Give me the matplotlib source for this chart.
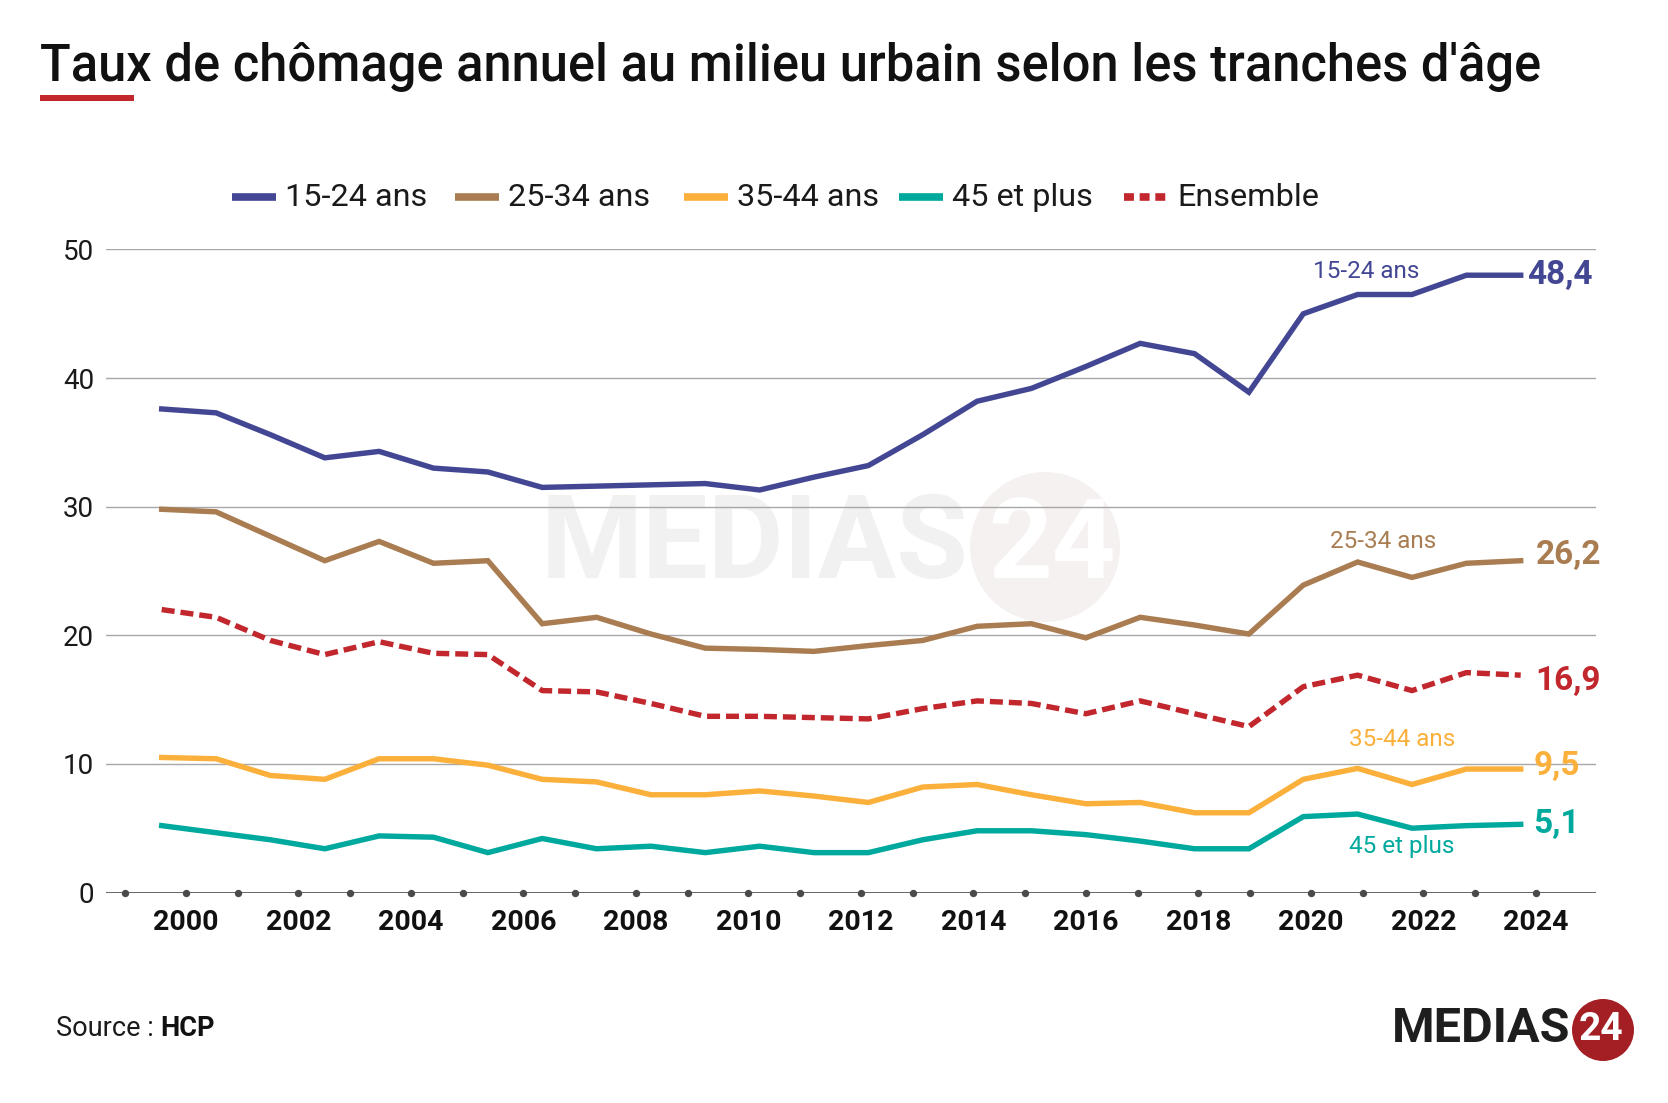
import matplotlib
matplotlib.use('Agg')
import matplotlib.pyplot as plt
from matplotlib.patches import Ellipse, Rectangle
import numpy as np

W, H = 1668, 1103

# ---------------- data ----------------
years = list(range(1999, 2025))
s15_24 = [37.6, 37.3, 35.6, 33.8, 34.3, 33.0, 32.7, 31.5, 31.6, 31.7, 31.8, 31.3, 32.3,
          33.2, 35.6, 38.2, 39.2, 40.9, 42.7, 41.9, 38.9, 45.0, 46.5, 46.5, 48.0, 48.0]
s25_34 = [29.8, 29.6, 27.7, 25.8, 27.3, 25.6, 25.8, 20.9, 21.4, 20.1, 19.0, 18.9, 18.75,
          19.2, 19.6, 20.7, 20.9, 19.8, 21.4, 20.8, 20.1, 23.9, 25.7, 24.5, 25.6, 25.8]
s35_44 = [10.5, 10.4, 9.1, 8.8, 10.4, 10.4, 9.9, 8.8, 8.6, 7.6, 7.6, 7.9, 7.5,
          7.0, 8.2, 8.4, 7.6, 6.9, 7.0, 6.2, 6.2, 8.8, 9.65, 8.4, 9.6, 9.6]
s45plus = [5.2, 4.65, 4.1, 3.4, 4.4, 4.3, 3.1, 4.2, 3.4, 3.6, 3.1, 3.6, 3.1,
           3.1, 4.1, 4.8, 4.8, 4.5, 4.0, 3.4, 3.4, 5.9, 6.1, 5.0, 5.2, 5.3]
ensemble = [22.0, 21.4, 19.6, 18.5, 19.5, 18.6, 18.5, 15.7, 15.6, 14.7, 13.7, 13.7, 13.6,
            13.5, 14.3, 14.9, 14.7, 13.9, 14.9, 13.9, 12.9, 16.0, 16.9, 15.7, 17.1, 16.9]

series_names = ["15-24 ans", "25-34 ans", "35-44 ans", "45 et plus", "Ensemble"]
end_labels = ["48,4", "26,2", "9,5", "5,1", "16,9"]
tick_years = list(range(2000, 2025, 2))
y_ticks = [0, 10, 20, 30, 40, 50]

colors = ["#434793", "#a97d51", "#fbb03b", "#00a99d", "#c1272d"]

plt.rcParams['font.family'] = ['Roboto', 'DejaVu Sans']

fig = plt.figure(figsize=(W / 100, H / 100), dpi=100)
fig.patch.set_facecolor('white')


def fx(x):
    return x / W


def fy(y):
    return 1 - y / H


def circle(cx, cy, r, **kw):
    return Ellipse((fx(cx), fy(cy)), 2 * r / W, 2 * r / H, transform=fig.transFigure, **kw)


# axes placement (pixel geometry of the reference)
AX_L, AX_R, AX_T, AX_B = 106, 1596, 249.5, 892.5
ax = fig.add_axes([fx(AX_L), fy(AX_B), (AX_R - AX_L) / W, (AX_B - AX_T) / H])
ax.patch.set_alpha(0)

# x scale: first point at px 161.7, step 54.36 px per year
PX0, STEP = 161.7, 54.36
ax.set_xlim(years[0] + (AX_L - PX0) / STEP, years[0] + (AX_R - PX0) / STEP)
ax.set_ylim(0, 50)


def tick_pos(L):
    return years[0] + (186 - PX0 + 56.25 * (L - 2000)) / STEP


major = [tick_pos(L) for L in tick_years]
minor = [m - 60.5 / STEP for m in major]

for s in ax.spines.values():
    s.set_visible(False)

for v in y_ticks[1:]:
    ax.axhline(v, color='#a8a8a8', lw=1.0, zorder=0.6)
ax.axhline(0, color='#4a4a4a', lw=1.9, zorder=1)
ax.plot(major + minor, [0] * (len(major) + len(minor)), 'o', ms=5.3, color='#4a4a4a',
        clip_on=False, zorder=2, mew=0)

ax.set_yticks(y_ticks)
ax.set_yticklabels([str(v) for v in y_ticks])
ax.tick_params(axis='y', length=0, pad=8.5, labelsize=20, labelcolor='#1a1a1a')
ax.set_xticks(major)
ax.set_xticklabels([str(L) for L in tick_years], fontweight='bold')
ax.tick_params(axis='x', length=0, pad=12, labelsize=20.5, labelcolor='#111111')

# watermark
ax.add_patch(circle(1045, 547, 75, facecolor='#f6f1f1', edgecolor='none', zorder=0.2))
ax.text(fx(755), fy(546), "MEDIAS", transform=fig.transFigure, fontsize=84,
        fontweight='bold', color='#f1f1f1', ha='center', va='center', zorder=0.3)
ax.text(fx(1052), fy(548), "24", transform=fig.transFigure, fontsize=80,
        fontweight='bold', color='#ffffff', ha='center', va='center', zorder=0.35)

data = [s15_24, s25_34, s35_44, s45plus, ensemble]
for vals, col, name in zip(data, colors, series_names):
    if name == "Ensemble":
        ax.plot(years, vals, color=col, lw=3.9, linestyle=(0, (2.4, 1.1)),
                dash_capstyle='butt', zorder=4, clip_on=False, label=name)
    else:
        ax.plot(years, vals, color=col, lw=3.9, solid_joinstyle='miter',
                zorder=3, clip_on=False, label=name)

# end value labels
end_off = {"48,4": (6, 0), "26,2": (15, 6), "16,9": (15, -6), "9,5": (13, 3), "5,1": (12, 0)}
ordered_ends = [end_labels[0], end_labels[1], end_labels[2], end_labels[3], end_labels[4]]
for vals, col, lab in zip(data, colors, ordered_ends):
    dx, dy = end_off[lab]
    ax.annotate(lab, xy=(years[-1], vals[-1]), xytext=(dx, dy), textcoords='offset pixels',
                ha='left', va='center', fontsize=24, fontweight='bold', color=col,
                annotation_clip=False, zorder=6)

# inline series labels
name_pos = [(1366, 271), (1383, 542), (1402, 740), (1402, 847)]
for (xp, yp), col, name in zip(name_pos, colors[:4], series_names[:4]):
    fig.text(fx(xp), fy(yp), name, color=col, fontsize=17.5, ha='center', va='center')

# legend (manual)
leg_marker_x = [232, 455, 684, 899, 1124]
LEG_Y = 197
for xm, col, name in zip(leg_marker_x, colors, series_names):
    if name == "Ensemble":
        fig.add_artist(plt.Line2D([fx(xm), fx(xm + 43)], [fy(LEG_Y), fy(LEG_Y)],
                                  transform=fig.transFigure, color=col, lw=5.5,
                                  linestyle=(0, (1.3, 0.75)), dash_capstyle='butt'))
    else:
        fig.add_artist(plt.Line2D([fx(xm), fx(xm + 44)], [fy(LEG_Y), fy(LEG_Y)],
                                  transform=fig.transFigure, color=col, lw=5.5,
                                  solid_capstyle='butt'))
    fig.text(fx(xm + 53), fy(LEG_Y), name, fontsize=23.3, color='#1a1a1a',
             ha='left', va='center')

# title, auto-fitted to the reference width
title = fig.text(fx(40), fy(67), "Taux de chômage annuel au milieu urbain selon les tranches d'âge",
                 fontsize=34, fontweight='medium', color='#111111', ha='left', va='center')
fig.canvas.draw()
r = fig.canvas.get_renderer()
bw = title.get_window_extent(r).width
title.set_fontsize(34 * 1503 / bw)
fig.add_artist(Rectangle((fx(40), fy(101)), 94 / W, 6 / H, transform=fig.transFigure,
                         facecolor='#c1272d', edgecolor='none'))

# source
src = fig.text(fx(56), fy(1028), "Source : ", fontsize=19.5, color='#1a1a1a',
               ha='left', va='center')
fig.canvas.draw()
sw = src.get_window_extent(r).width
fig.text(fx(56) + sw / W, fy(1028), "HCP", fontsize=19.5, fontweight='bold',
         color='#111111', ha='left', va='center')

# logo
fig.text(fx(1570), fy(1029), "MEDIAS", fontsize=35, fontweight='bold', color='#1e1e1e',
         ha='right', va='center')
fig.add_artist(circle(1603, 1030, 31, facecolor='#a31f24', edgecolor='none'))
fig.text(fx(1601), fy(1030), "24", fontsize=28, fontweight='bold', color='white',
         ha='center', va='center')

fig.savefig('out.png', dpi=100, facecolor='white')
